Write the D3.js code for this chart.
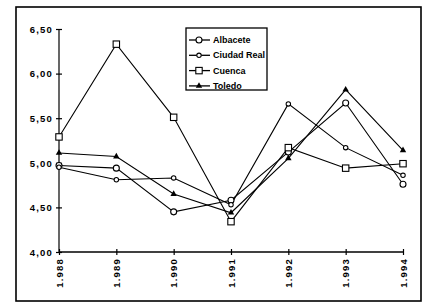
<!DOCTYPE html>
<html>
<head>
<meta charset="utf-8">
<script src="https://cdn.jsdelivr.net/npm/d3@7"></script>
<style>
  body { margin: 0; background: #fff; }
  text { font-family: "Liberation Sans", Arial, sans-serif; font-weight: bold; font-size: 9.5px; fill: #000; }
  .axis text { letter-spacing: 1.2px; }
</style>
</head>
<body>
<div id="chart"></div>
<script>
const years = [1988, 1989, 1990, 1991, 1992, 1993, 1994];
const yTicks = [4.0, 4.5, 5.0, 5.5, 6.0, 6.5];

const albacete = [4.97, 4.94, 4.45, 4.58, 5.12, 5.67, 4.76];
const ciudadReal = [4.95, 4.81, 4.83, 4.53, 5.66, 5.17, 4.86];
const cuenca = [5.29, 6.33, 5.51, 4.34, 5.17, 4.94, 4.99];
const toledo = [5.11, 5.07, 4.65, 4.44, 5.05, 5.82, 5.14];

const seriesNames = ["Albacete", "Ciudad Real", "Cuenca", "Toledo"];
const seriesValues = [albacete, ciudadReal, cuenca, toledo];
const markers = ["bigCircle", "smallCircle", "square", "triangle"];

const W = 428, H = 304;
const margin = {top: 29, bottom: 52, left: 59, right: 25};
const width = W - margin.left - margin.right,
      height = H - margin.top - margin.bottom;

const root = d3.select("#chart").append("svg")
  .attr("width", W)
  .attr("height", H);

// outer frame
root.append("rect")
  .attr("x", 16).attr("y", 7)
  .attr("width", 405).attr("height", 294)
  .attr("fill", "none")
  .attr("stroke", "#000")
  .attr("stroke-width", 1.6);

const svg = root.append("g")
  .attr("transform", `translate(${margin.left},${margin.top})`);

const xScale = d3.scalePoint().domain(years).range([0, width]);
const yScale = d3.scaleLinear().domain([4, 6.5]).range([height, 0]);

const fmtY = d => d.toFixed(2).replace(".", ",");
const fmtX = d => String(d).replace(/^(\d)(\d{3})$/, "$1.$2");

const yAxis = d3.axisLeft(yScale).tickValues(yTicks).tickFormat(fmtY).tickSizeOuter(0);
const gy = svg.append("g").attr("class", "axis").call(yAxis);
gy.selectAll(".tick line").attr("x1", -3).attr("x2", 3).attr("stroke-width", 1.2);
gy.selectAll(".tick text").attr("x", -6).attr("dy", "0.35em");

const xAxis = d3.axisBottom(xScale).tickFormat(fmtX).tickSizeOuter(0);
const gx = svg.append("g").attr("class", "axis").attr("transform", `translate(0,${height})`).call(xAxis);
gx.selectAll(".tick line").attr("y1", -3).attr("y2", 3).attr("stroke-width", 1.2);
gx.selectAll(".tick text")
  .attr("transform", "rotate(-90)")
  .attr("x", -6).attr("y", 0)
  .attr("dy", "0.35em")
  .attr("text-anchor", "end");
svg.selectAll(".domain").remove();
gy.append("line").attr("x1", 0).attr("x2", 0).attr("y1", 0).attr("y2", height).attr("stroke", "#000").attr("stroke-width", 1.2);
gx.append("line").attr("x1", 0).attr("x2", width).attr("y1", 0).attr("y2", 0).attr("stroke", "#000").attr("stroke-width", 1.5);

const line = d3.line()
  .x((d, i) => xScale(years[i]))
  .y(d => yScale(d));

function drawMarker(sel, type) {
  if (type === "bigCircle") {
    sel.append("circle").attr("r", 3).attr("fill", "#fff").attr("stroke", "#000").attr("stroke-width", 1.1);
  } else if (type === "smallCircle") {
    sel.append("circle").attr("r", 2.2).attr("fill", "#fff").attr("stroke", "#000").attr("stroke-width", 1.1);
  } else if (type === "square") {
    sel.append("rect").attr("x", -3.2).attr("y", -3.2).attr("width", 6.4).attr("height", 6.4)
      .attr("fill", "#fff").attr("stroke", "#000").attr("stroke-width", 1.1);
  } else {
    sel.append("path").attr("d", d3.symbol(d3.symbolTriangle, 18)()).attr("fill", "#000");
  }
}

seriesValues.forEach((vals, s) => {
  svg.append("path")
    .datum(vals)
    .attr("d", line)
    .attr("fill", "none")
    .attr("stroke", "#000")
    .attr("stroke-width", 1.1);
});

seriesValues.forEach((vals, s) => {
  svg.selectAll(null)
    .data(vals)
    .join("g")
    .attr("transform", (d, i) => `translate(${xScale(years[i])},${yScale(d)})`)
    .each(function() { drawMarker(d3.select(this), markers[s]); });
});

// legend
const legend = root.append("g").attr("transform", "translate(186,28)");
legend.append("rect")
  .attr("width", 81).attr("height", 62)
  .attr("fill", "#fff").attr("stroke", "#000").attr("stroke-width", 1.3);

seriesNames.forEach((name, i) => {
  const row = legend.append("g").attr("transform", `translate(0,${12 + i * 15.3})`);
  row.append("line").attr("x1", 3).attr("x2", 24).attr("stroke", "#000").attr("stroke-width", 1.3);
  const m = row.append("g").attr("transform", "translate(13,0)");
  drawMarker(m, markers[i]);
  row.append("text").attr("x", 27).attr("dy", "0.35em").style("font-size", "9px").text(name);
});
</script>
</body>
</html>
